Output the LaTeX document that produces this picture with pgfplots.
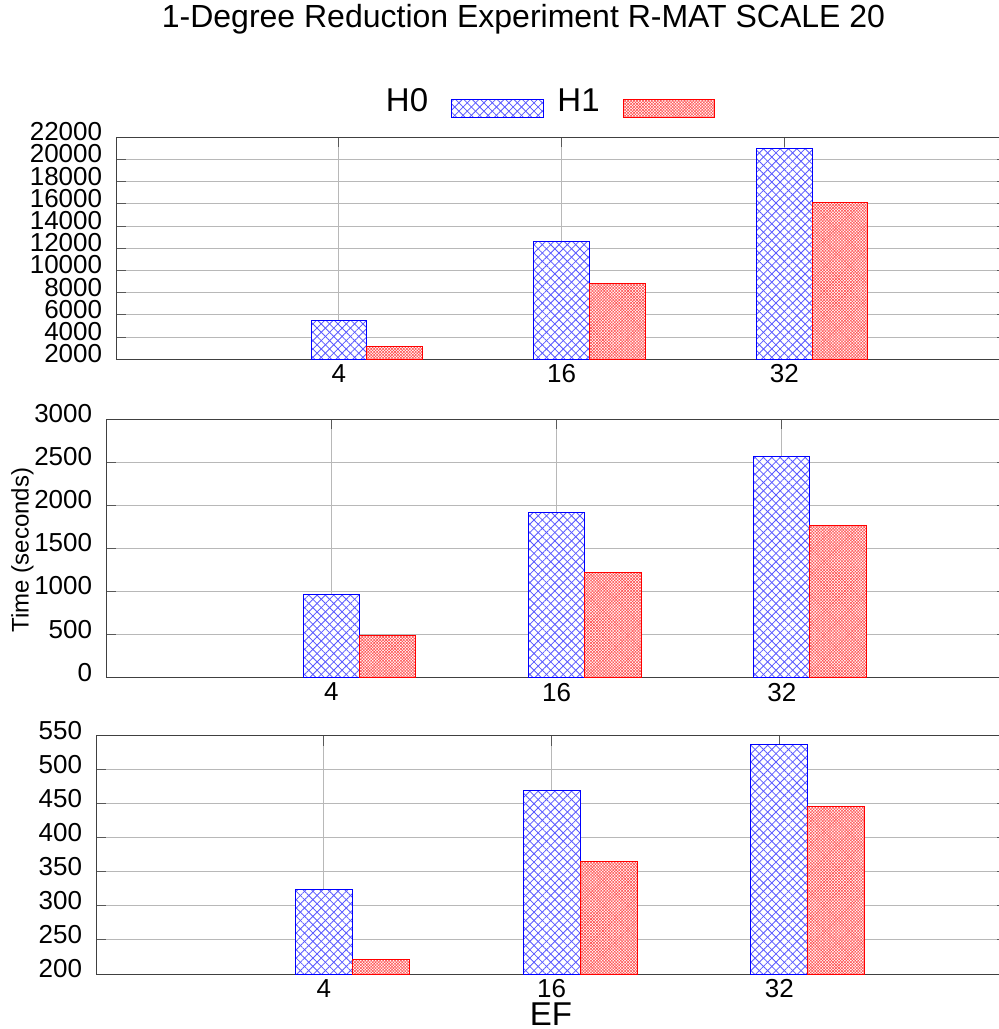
\documentclass[border=0pt]{standalone}
\usepackage{fontspec}
\setmainfont{Liberation Sans}
\usepackage{pgfplots}
\pgfplotsset{compat=1.18}
\usetikzlibrary{patterns,patterns.meta}

\pgfplotsset{
  panel/.style={
    scale only axis,
    xmin=-1, xmax=3,
    xtick={0,1,2}, xticklabels={4,16,32},
    grid=major,
    grid style={line width=1pt, color=black!28},
    axis line style={line width=1pt, color=black!75},
    major tick length=10pt,
    tick style={line width=1pt, color=black!65},
    tick label style={font=\fontsize{26}{26}\selectfont},
    /pgf/number format/assume math mode=true,
    /pgf/number format/1000 sep={},
    scaled y ticks=false,
    yticklabel style={inner sep=0pt, xshift=-14pt, yshift=5.5pt},
    xticklabel style={inner sep=0pt, yshift=-5pt},
  },
  lgimg/.style={legend image code/.code={\draw[##1] (0pt,-17pt) rectangle (91.7pt,1pt);}},
  h0/.style={draw=blue, line width=1pt, fill=white,
    postaction={pattern={Lines[angle=45,distance=5.9pt,line width=0.8pt]}, pattern color=blue!65},
    postaction={pattern={Lines[angle=-45,distance=5.9pt,line width=0.8pt]}, pattern color=blue!65}},
  h1/.style={draw=red, line width=1pt, fill=white,
    postaction={pattern={Lines[angle=45,distance=2.1pt,line width=0.55pt]}, pattern color=red!70},
    postaction={pattern={Lines[angle=-45,distance=2.1pt,line width=0.55pt]}, pattern color=red!70}},
}

\begin{document}
\begin{tikzpicture}
\useasboundingbox (0pt,0pt) rectangle (999pt,-1029pt);

% top panel
\begin{axis}[panel,
  at={(116.3pt,-359.3pt)}, anchor=south west,
  width=890.7pt, height=222pt,
  ymin=2000, ymax=22000, ytick={2000,4000,...,22000},
  title={1-Degree Reduction Experiment R-MAT SCALE 20},
  title style={at={(axis description cs:0.4572,1.4685)}, anchor=base, font=\fontsize{32}{32}\selectfont},
  legend columns=2,
  legend plot pos=right,
  legend style={draw=none, fill=none, inner sep=0pt,
    at={(axis description cs:0.3025,1.2207)}, anchor=north west,
    font=\fontsize{33}{33}\selectfont,
    nodes={inner sep=0pt},
    /tikz/every odd column/.append style={column sep=23pt},
    /tikz/every even column/.append style={column sep=13.6pt}},
]
\addplot[ybar, bar width=55.7pt, bar shift=0pt, h0, lgimg] coordinates {(0,5540) (1,12630) (2,21010)};
\addplot[ybar, bar width=55.7pt, bar shift=55.7pt, h1, lgimg] coordinates {(0,3170) (1,8850) (2,16110)};
\legend{H0,H1}
\end{axis}

% middle panel
\begin{axis}[panel,
  at={(106.3pt,-677.7pt)}, anchor=south west,
  width=900.7pt, height=258.7pt,
  ymin=0, ymax=3000, ytick={0,500,...,3000},
  ylabel={Time (seconds)},
  every axis y label/.style={at={(axis description cs:-0.093,0.4936)}, anchor=center, rotate=90, font=\fontsize{24}{24}\selectfont},
]
\addplot[ybar, bar width=56.3pt, bar shift=0pt, h0] coordinates {(0,970) (1,1913) (2,2563)};
\addplot[ybar, bar width=56.3pt, bar shift=56.3pt, h1] coordinates {(0,495) (1,1218) (2,1763)};
\end{axis}

% bottom panel
\begin{axis}[panel,
  at={(96.3pt,-974pt)}, anchor=south west,
  width=910.7pt, height=238.3pt,
  ymin=200, ymax=550, ytick={200,250,...,550},
  xlabel={EF},
  every axis x label/.style={at={(axis description cs:0.4993,-0.214)}, anchor=base, font=\fontsize{33}{33}\selectfont},
]
\addplot[ybar, bar width=57pt, bar shift=0pt, h0] coordinates {(0,324.6) (1,469) (2,537)};
\addplot[ybar, bar width=57pt, bar shift=57pt, h1] coordinates {(0,220.6) (1,365.7) (2,446.6)};
\end{axis}
\end{tikzpicture}
\end{document}
